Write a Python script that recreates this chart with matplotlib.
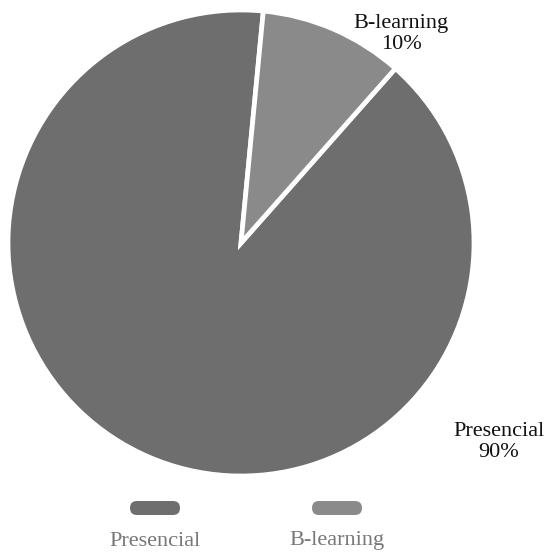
import matplotlib
matplotlib.use("Agg")
import matplotlib.pyplot as plt
from matplotlib.patches import FancyBboxPatch

categories = ["Presencial", "B-learning"]
values = [90, 10]
colors = ["#6e6e6e", "#8a8a8a"]

W, H = 552, 553
fig = plt.figure(figsize=(W / 100, H / 100), dpi=100)
ax = fig.add_axes([0, 0, 1, 1])

cx, cy, R = 241, H - 243, 233
# small slice centred about 23.5 degrees clockwise from 12 o'clock
b_mid = 90 - 23.5
b_half = values[1] / sum(values) * 360 / 2
start = b_mid - b_half  # Presencial starts where B-learning ends (clockwise)
ax.pie(values, colors=colors, startangle=start, counterclock=False,
       center=(cx, cy), radius=R, frame=True,
       wedgeprops=dict(edgecolor="white", linewidth=3.4))
ax.set_xlim(0, W)
ax.set_ylim(0, H)
ax.set_aspect("equal")
ax.axis("off")

font = ["Liberation Serif", "DejaVu Serif"]
total = sum(values)
label_pos = {"Presencial": (499, H - 442), "B-learning": (401, H - 34)}
for cat, v in zip(categories, values):
    x, y = label_pos[cat]
    ax.text(x, y, f"{cat}\n{round(v / total * 100)}%", ha="center", va="center",
            fontsize=16, family=font, color="#111111", linespacing=1.12)

# legend
leg_x = [155, 337]
for cat, col, lx in zip(categories, colors, leg_x):
    ax.add_patch(FancyBboxPatch((lx - 25, H - 515), 50, 14,
                                boxstyle="round,pad=0,rounding_size=7",
                                facecolor=col, edgecolor="none"))
    ax.text(lx, H - 541, cat, ha="center", va="center", fontsize=16,
            family=font, color="#777777")

fig.savefig("out.png", dpi=100)
